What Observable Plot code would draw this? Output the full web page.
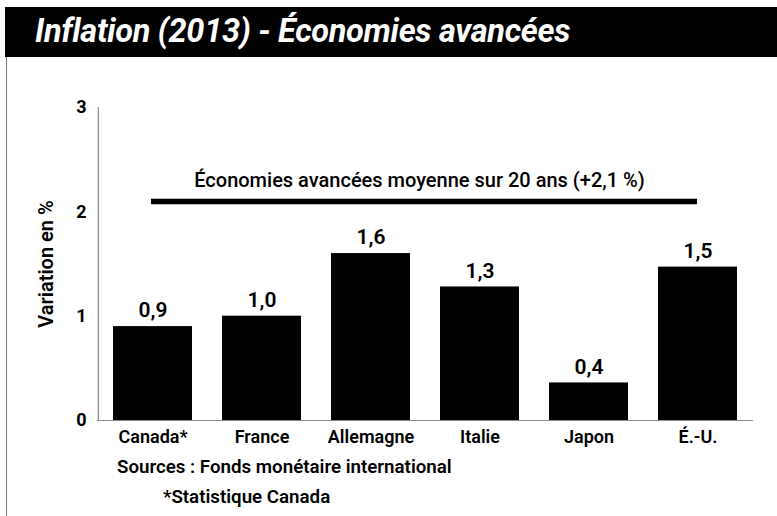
<!DOCTYPE html>
<html>
<head>
<meta charset="utf-8">
<script src="https://cdn.jsdelivr.net/npm/d3@7"></script>
<script src="https://cdn.jsdelivr.net/npm/@observablehq/plot@0.6"></script>
<style>
  html, body { margin: 0; padding: 0; background: #fff; }
  #wrap { position: relative; width: 777px; height: 516px; overflow: hidden; font-family: Roboto, "Open Sans", sans-serif; }
  #titlebar { position: absolute; left: 5px; top: 7px; width: 772px; height: 50px; background: #000; }
  #title { position: absolute; left: 30px; top: 3px; color: #fff; font-size: 34px; font-weight: 700; font-style: italic; white-space: nowrap; transform-origin: 0 0; transform: scaleX(0.955); letter-spacing: -0.3px; }
  #border { position: absolute; left: 6px; top: 57px; width: 0; height: 459px; border-left: 1.5px solid #777; }
  #chart { position: absolute; left: 0; top: 0; }
  .src { position: absolute; color: #000; font-size: 19px; font-weight: 600; white-space: nowrap; transform-origin: 0 0; transform: scaleX(0.985); }
</style>
</head>
<body>
<div id="wrap">
  <div id="chart"></div>
  <div id="titlebar"><div id="title"></div></div>
  <div id="border"></div>
  <div class="src" id="src1" style="left:117px; top:455px;"></div>
  <div class="src" id="src2" style="left:163px; top:485px;"></div>
</div>
<script>
const titleText = "Inflation (2013) - Économies avancées";
const categories = ["Canada*", "France", "Allemagne", "Italie", "Japon", "É.-U."];
const values = [0.9, 1.0, 1.6, 1.28, 0.36, 1.47];
const valueLabels = ["0,9", "1,0", "1,6", "1,3", "0,4", "1,5"];
const yTicks = [0, 1, 2, 3];
const yLabel = "Variation en %";
const average = [2.1];
const averageLabel = "Économies avancées moyenne sur 20 ans (+2,1 %)";
const sourceLine1 = "Sources : Fonds monétaire international";
const sourceLine2 = "*Statistique Canada";

const data = categories.map((c, i) => ({ country: c, value: values[i], label: valueLabels[i] }));

document.getElementById("title").textContent = titleText;
document.getElementById("src1").textContent = sourceLine1;
document.getElementById("src2").textContent = sourceLine2;

const chart = Plot.plot({
  width: 777,
  height: 516,
  marginLeft: 97,
  marginRight: 24,
  marginTop: 107,
  marginBottom: 96,
  style: { fontFamily: "Roboto, 'Open Sans', sans-serif", background: "transparent" },
  x: { domain: categories, paddingInner: 0.275, paddingOuter: 0.1375, label: null },
  y: { domain: [0, 3], label: null },
  marks: [
    Plot.barY(data, { x: "country", y: "value", fill: "#000" }),
    Plot.ruleY([0], { stroke: "#888", strokeWidth: 1.2 }),
    Plot.ruleX([categories[0]], { y1: 0, y2: 3, dx: -54.7, stroke: "#888", strokeWidth: 1.2 }),
    Plot.ruleY(average, { stroke: "#000", strokeWidth: 5.5, insetLeft: 54, insetRight: 56 }),
    Plot.text(average, { y: (d) => d, text: () => averageLabel, dy: -21, dx: -6, fontSize: 20, fontWeight: 500, fill: "#000" }),
    Plot.text(data, { x: "country", y: "value", text: "label", dy: -16, fontSize: 21, fontWeight: 600, fill: "#000" }),
    Plot.axisY({ ticks: yTicks, tickSize: 0, tickPadding: 11, fontSize: 18, fontWeight: 700, tickFormat: (d) => String(d), label: null }),
    Plot.axisX({ tickSize: 0, tickPadding: 10, fontSize: 18, fontWeight: 600, label: null }),
    Plot.text([yLabel], { frameAnchor: "left", textAnchor: "middle", text: (d) => d, rotate: -90, dx: -51, fontSize: 20, fontWeight: 600, fill: "#000" })
  ]
});
document.getElementById("chart").appendChild(chart);
</script>
</body>
</html>
